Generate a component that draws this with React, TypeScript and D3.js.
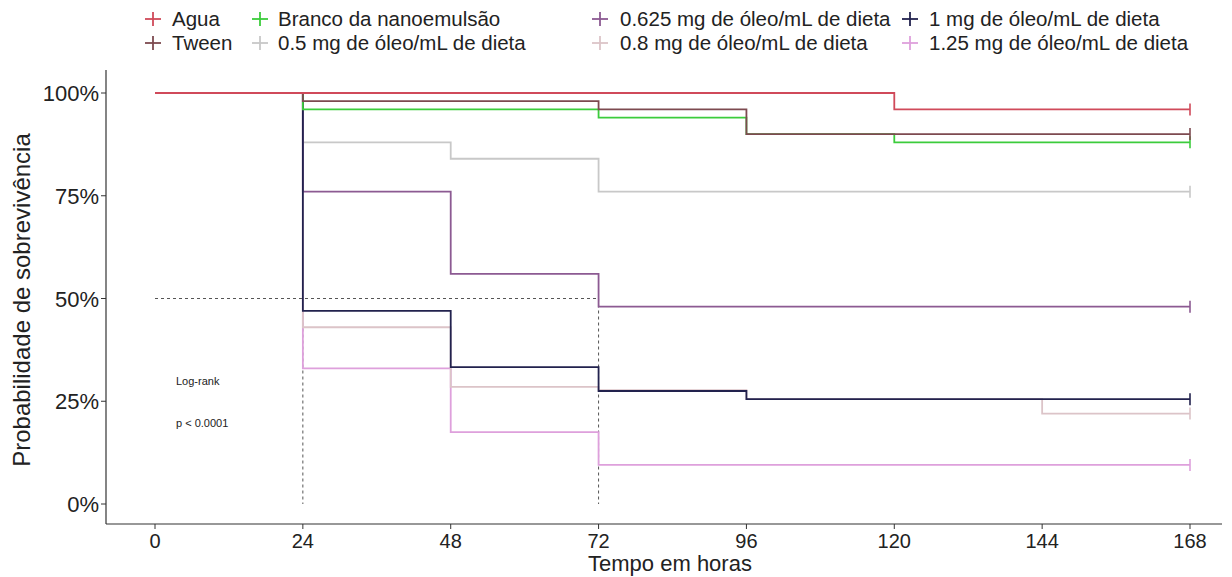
import { useRef, useEffect } from "react";
import * as d3 from "d3";

// Kaplan-Meier step data (time in hours, survival 0-1)
const groups = [
  "Agua",
  "Tween",
  "Branco da nanoemulsão",
  "0.5 mg de óleo/mL de dieta",
  "0.625 mg de óleo/mL de dieta",
  "0.8 mg de óleo/mL de dieta",
  "1 mg de óleo/mL de dieta",
  "1.25 mg de óleo/mL de dieta",
];
const colors = ["#d04a5a", "#7d4a50", "#3ccc3c", "#c8c8c8", "#8c5a92", "#dcc4c8", "#22224e", "#dea0dc"];

const aguaTimes = [0, 24, 120, 168];
const aguaSurv = [1, 1, 0.96, 0.96];
const tweenTimes = [0, 24, 72, 96, 168];
const tweenSurv = [1, 0.98, 0.96, 0.9, 0.9];
const brancoTimes = [0, 24, 72, 96, 120, 168];
const brancoSurv = [1, 0.96, 0.94, 0.9, 0.88, 0.88];
const d05Times = [0, 24, 48, 72, 168];
const d05Surv = [1, 0.88, 0.84, 0.76, 0.76];
const d0625Times = [0, 24, 48, 72, 168];
const d0625Surv = [1, 0.76, 0.56, 0.48, 0.48];
const d08Times = [0, 24, 48, 72, 96, 144, 168];
const d08Surv = [1, 0.43, 0.285, 0.277, 0.255, 0.22, 0.22];
const d1Times = [0, 24, 48, 72, 96, 168];
const d1Surv = [1, 0.47, 0.333, 0.275, 0.255, 0.255];
const d125Times = [0, 24, 48, 72, 168];
const d125Surv = [1, 0.33, 0.175, 0.095, 0.095];

const seriesTimes = [aguaTimes, tweenTimes, brancoTimes, d05Times, d0625Times, d08Times, d1Times, d125Times];
const seriesSurv = [aguaSurv, tweenSurv, brancoSurv, d05Surv, d0625Surv, d08Surv, d1Surv, d125Surv];

const xTicks = [0, 24, 48, 72, 96, 120, 144, 168];
const yTicks = [0, 0.25, 0.5, 0.75, 1];
const medianTimes = [24, 72];

// draw order: light lines first, darker on top
const drawOrder = [7, 5, 3, 4, 6, 2, 1, 0];

function App() {
  const svgRef = useRef(null);

  useEffect(() => {
    const w = 1232;
    const h = 577;
    const svg = d3.select(svgRef.current).attr("width", w).attr("height", h);
    svg.selectAll("*").remove();

    const font = "'Liberation Sans', Arial, sans-serif";
    const x = d3.scaleLinear().domain([0, 168]).range([155, 1190]);
    const y = d3.scaleLinear().domain([0, 1]).range([504, 93]);

    // axes
    const axisCol = "#333";
    svg.append("line").attr("x1", 106).attr("x2", 106).attr("y1", 70).attr("y2", 524)
      .attr("stroke", axisCol).attr("stroke-width", 1.2);
    svg.append("line").attr("x1", 106).attr("x2", 1222).attr("y1", 524).attr("y2", 524)
      .attr("stroke", axisCol).attr("stroke-width", 1.2);

    svg.selectAll(".xt").data(xTicks).join("line")
      .attr("x1", (d) => x(d)).attr("x2", (d) => x(d))
      .attr("y1", 524).attr("y2", 529).attr("stroke", axisCol);
    svg.selectAll(".xl").data(xTicks).join("text")
      .attr("x", (d) => x(d)).attr("y", 548)
      .attr("text-anchor", "middle").style("font-family", font).style("font-size", "20px")
      .attr("fill", "#222").text((d) => d);

    svg.selectAll(".yt").data(yTicks).join("line")
      .attr("x1", 101).attr("x2", 106)
      .attr("y1", (d) => y(d)).attr("y2", (d) => y(d)).attr("stroke", axisCol);
    svg.selectAll(".yl").data(yTicks).join("text")
      .attr("x", 99).attr("y", (d) => y(d) + 8)
      .attr("text-anchor", "end").style("font-family", font).style("font-size", "22px")
      .attr("fill", "#222").text((d) => d3.format(".0%")(d));

    svg.append("text").attr("x", 670).attr("y", 571).attr("text-anchor", "middle")
      .style("font-family", font).style("font-size", "22px").attr("fill", "#222")
      .text("Tempo em horas");
    svg.append("text").attr("transform", "translate(30,300) rotate(-90)").attr("text-anchor", "middle")
      .style("font-family", font).style("font-size", "24px").attr("fill", "#222")
      .text("Probabilidade de sobrevivência");

    // median survival dashed lines
    svg.append("line").attr("x1", x(0)).attr("x2", x(72)).attr("y1", y(0.5)).attr("y2", y(0.5))
      .attr("stroke", "#555").attr("stroke-dasharray", "3,3");
    svg.selectAll(".med").data(medianTimes).join("line")
      .attr("x1", (d) => x(d)).attr("x2", (d) => x(d))
      .attr("y1", y(0.5)).attr("y2", y(0))
      .attr("stroke", "#555").attr("stroke-dasharray", "3,3");

    // survival curves
    const line = d3.line().x((d) => x(d[0])).y((d) => y(d[1])).curve(d3.curveStepAfter);
    drawOrder.forEach((i) => {
      const pts = seriesTimes[i].map((t, k) => [t, seriesSurv[i][k]]);
      svg.append("path").attr("d", line(pts)).attr("fill", "none")
        .attr("stroke", colors[i]).attr("stroke-width", 1.8);
      const last = pts[pts.length - 1];
      svg.append("line").attr("x1", x(last[0])).attr("x2", x(last[0]))
        .attr("y1", y(last[1]) - 6).attr("y2", y(last[1]) + 6)
        .attr("stroke", colors[i]).attr("stroke-width", 1.6);
    });

    // log-rank annotation
    svg.append("text").attr("x", 176).attr("y", 385).style("font-family", font).style("font-size", "11px")
      .attr("fill", "#222").text("Log-rank");
    svg.append("text").attr("x", 176).attr("y", 427).style("font-family", font).style("font-size", "11px")
      .attr("fill", "#222").text("p < 0.0001");

    // legend: 4 columns x 2 rows, filled by column
    const colSym = [153, 260, 600, 910];
    const colText = [172, 278, 620, 929];
    const rowY = [19, 43];
    groups.forEach((g, i) => {
      const c = Math.floor(i / 2);
      const r = i % 2;
      const lg = svg.append("g");
      lg.append("line").attr("x1", colSym[c] - 8).attr("x2", colSym[c] + 8)
        .attr("y1", rowY[r]).attr("y2", rowY[r]).attr("stroke", colors[i]).attr("stroke-width", 1.8);
      lg.append("line").attr("x1", colSym[c]).attr("x2", colSym[c])
        .attr("y1", rowY[r] - 7).attr("y2", rowY[r] + 7).attr("stroke", colors[i]).attr("stroke-width", 1.8);
      lg.append("text").attr("x", colText[c]).attr("y", rowY[r] + 7)
        .style("font-family", font).style("font-size", "20.5px").attr("fill", "#222").text(g);
    });
  }, []);

  return <svg ref={svgRef} style={{ position: "absolute", left: 0, top: 0, background: "#fff" }}></svg>;
}

export default App;
